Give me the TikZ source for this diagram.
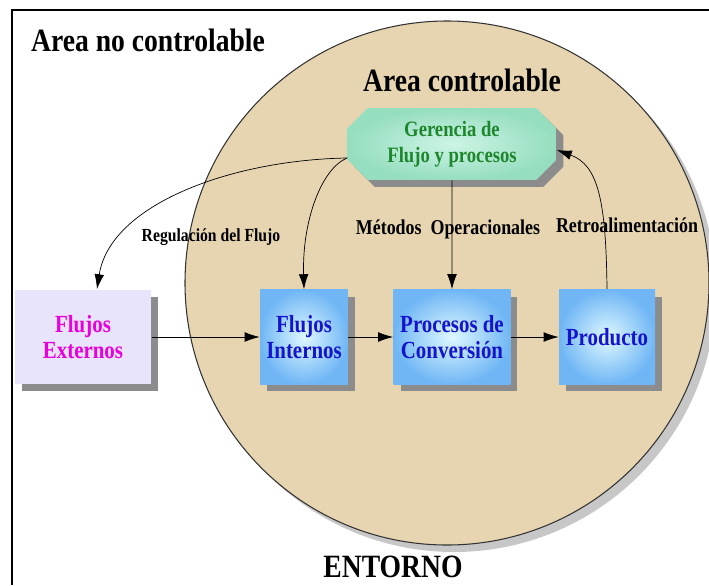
\documentclass[tikz,border=0pt]{standalone}
\usepackage{fontspec}
\setmainfont{Liberation Serif}[FakeStretch=0.85]
\usetikzlibrary{arrows.meta,shapes.misc,shadows,positioning}

\definecolor{arena}{RGB}{230,213,176}
\definecolor{sombra}{RGB}{140,140,140}
\definecolor{cajaazul}{RGB}{112,182,245}
\definecolor{cajaclara}{RGB}{222,248,255}
\definecolor{textoazul}{RGB}{20,20,205}
\definecolor{verdeclaro}{RGB}{205,244,228}
\definecolor{verdecaja}{RGB}{150,222,192}
\definecolor{textoverde}{RGB}{30,135,45}
\definecolor{lila}{RGB}{232,228,252}
\definecolor{textolila}{RGB}{232,0,222}

\begin{document}
\begin{tikzpicture}[x = 0.02cm, y = -0.02cm,
        titulo/.style = {font = \fontsize{18.5}{20}\selectfont\bfseries},
        caja/.style = {rectangle, minimum height = 1.9cm, align = center, inner sep = 1pt,
            font = \fontsize{14}{15}\selectfont\bfseries,
            drop shadow = {shadow xshift = 0.14cm, shadow yshift = -0.14cm, fill = sombra, opacity = 1}},
        interna/.style = {caja, inner color = cajaclara, outer color = cajaazul, text = textoazul},
        externa/.style = {caja, fill = lila, text = textolila},
        gerencia/.style = {chamfered rectangle, chamfered rectangle xsep = 0.3cm,
            minimum width = 4.18cm, minimum height = 1.44cm, align = center, inner sep = 1pt,
            inner color = verdeclaro, outer color = verdecaja, text = textoverde,
            font = \fontsize{12.5}{15}\selectfont\bfseries,
            drop shadow = {shadow xshift = 0.14cm, shadow yshift = -0.14cm, fill = sombra, opacity = 1}},
        etiqueta/.style = {font = \fontsize{12}{13}\selectfont\bfseries},
        flecha/.style = {-{Latex[length = 8.5pt, width = 5.5pt]}, thin}]
    \useasboundingbox (0, 0) rectangle (709, 585);
    % marco del entorno
    \draw[line width = 1.3pt] (12, 585) -- (12, 10) -- (709, 10);
    % area controlable
    \fill[black!22] (454, 290) circle [radius = 262];
    \draw[fill = arena, draw = black!80, semithick] (447, 283) circle [radius = 262];
    \node[titulo] (noctrl) at (148, 40) {Area no controlable};
    \node[titulo] (ctrl) at (462, 80) {Area controlable};
    \node[titulo] (entorno) at (393, 567) {ENTORNO};
    % bloques
    \node[gerencia] (ger) at (452, 144) {Gerencia de\\Flujo y procesos};
    \node[externa, minimum width = 2.74cm] (ext) at (83, 337) {Flujos\\Externos};
    \node[interna, minimum width = 1.76cm] (fint) at (304, 337) {Flujos\\Internos};
    \node[interna, minimum width = 2.34cm] (proc) at (452, 337) {Procesos de\\Conversi\'on};
    \node[interna, minimum width = 1.92cm] (prod) at (607, 337) {Producto};
    % etiquetas
    \node[etiqueta, font = \fontsize{10.5}{12}\selectfont\bfseries] (lreg) at (211, 237) {Regulaci\'on del Flujo};
    \node[etiqueta] (lmet) at (448, 229) {M\'etodos\ \ Operacionales};
    \node[etiqueta] (lret) at (627, 225) {Retroalimentaci\'on};
    % flechas
    \coordinate (gsal) at ([yshift = -0.28cm]ger.west);
    \coordinate (gent) at ([yshift = -0.12cm]ger.east);
    \draw[flecha] (ext) -- (fint);
    \draw[flecha] (fint) -- (proc);
    \draw[flecha] (proc) -- (prod);
    \draw[flecha] (ger) -- (proc);
    \draw[flecha] (gsal) .. controls (230, 160) and (110, 205) .. ([xshift = 0.28cm]ext.north);
    \draw[flecha] (gsal) .. controls (322, 168) and (302, 220) .. (fint.north);
    \draw[flecha] (prod.north) .. controls (606, 200) and (598, 165) .. (gent);
\end{tikzpicture}
\end{document}
